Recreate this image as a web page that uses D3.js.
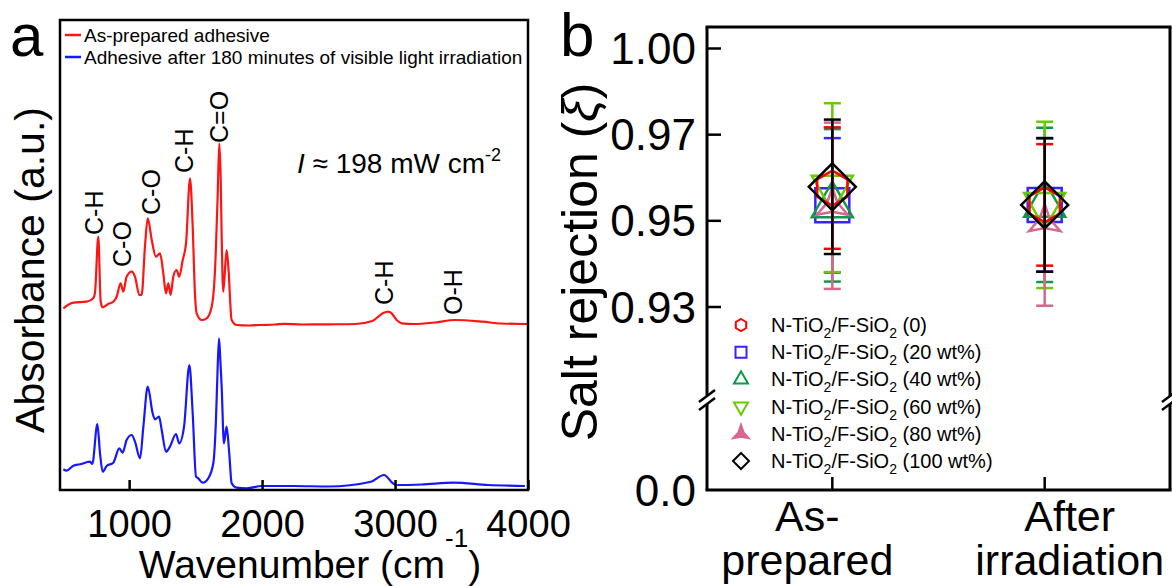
<!DOCTYPE html>
<html>
<head>
<meta charset="utf-8">
<script src="https://cdn.jsdelivr.net/npm/d3@7"></script>
<style>
  body { margin: 0; background: #fff; }
  svg { display: block; }
  text { font-family: "Liberation Sans", Arial, sans-serif; fill: #000; }
</style>
</head>
<body>
<svg id="chart" width="1172" height="586"></svg>
<script>
// ---------- Panel a: FTIR spectra ----------
const spectrumNames = ["As-prepared adhesive", "Adhesive after 180 minutes of visible light irradiation"];

const redWn = [505, 580, 681, 730, 743, 768, 786, 801, 843, 881, 906, 936, 956, 981, 1019, 1044, 1077, 1094,
  1119, 1140, 1170, 1202, 1232, 1257, 1277, 1295, 1312, 1332, 1357, 1377, 1403, 1428, 1458, 1478, 1495, 1508,
  1546, 1583, 1621, 1646, 1666, 1678, 1688, 1696, 1708, 1733, 1746, 1771, 1809, 1900, 1984, 2100, 2168, 2300,
  2500, 2700, 2829, 2908, 2946, 2972, 3012, 3050, 3141, 3300, 3451, 3660, 3800, 3997];
const redAbs = [1.817, 1.873, 1.883, 1.917, 1.970, 2.533, 1.883, 1.827, 1.860, 1.883, 1.933, 2.067, 1.983, 2.133,
  2.183, 2.133, 1.950, 1.950, 2.433, 2.717, 2.500, 2.333, 2.367, 2.167, 1.967, 2.067, 1.950, 2.133, 2.200, 2.133,
  2.300, 2.467, 3.117, 2.633, 1.967, 1.767, 1.700, 1.717, 1.833, 2.200, 2.950, 3.467, 3.150, 2.533, 1.983, 2.400,
  2.233, 1.700, 1.650, 1.645, 1.650, 1.655, 1.662, 1.655, 1.657, 1.660, 1.690, 1.767, 1.783, 1.770, 1.700, 1.667,
  1.660, 1.675, 1.700, 1.683, 1.665, 1.660];

const blueWn = [505, 530, 580, 630, 706, 723, 761, 781, 801, 831, 881, 926, 951, 981, 1019, 1044, 1082, 1107,
  1140, 1177, 1194, 1225, 1245, 1277, 1307, 1352, 1377, 1413, 1453, 1478, 1503, 1520, 1553, 1595, 1633, 1653,
  1664, 1676, 1686, 1696, 1713, 1733, 1753, 1771, 1809, 1884, 1997, 2235, 2500, 2819, 2917, 2984, 3010, 3200,
  3440, 3700, 3977];
const blueAbs = [0.207, 0.193, 0.243, 0.257, 0.283, 0.260, 0.660, 0.367, 0.183, 0.240, 0.273, 0.417, 0.373, 0.500,
  0.550, 0.483, 0.317, 0.633, 1.033, 0.767, 0.707, 0.733, 0.600, 0.383, 0.433, 0.560, 0.467, 0.633, 1.250, 0.767,
  0.133, 0.117, 0.073, 0.117, 0.267, 0.700, 1.150, 1.517, 1.300, 1.033, 0.467, 0.633, 0.367, 0.067, 0.023, 0.017,
  0.040, 0.040, 0.035, 0.083, 0.150, 0.067, 0.050, 0.055, 0.073, 0.050, 0.040];

const wnTicks = [1000, 2000, 3000, 4000];

// band assignments written above the red trace
const peakText = ["C-H", "C-O", "C-O", "C-H", "C=O", "C-H", "O-H"];
const peakWn = [736, 946, 1164, 1413, 1676, 2917, 3436];
const peakAbs = [2.55, 2.23, 2.75, 3.17, 3.47, 1.85, 1.75];

// ---------- Panel b: salt rejection ----------
const categories = ["As-prepared", "After irradiation"];
const categoryLines = [["As-", "prepared"], ["After", "irradiation"]];
const loadings = ["0", "20 wt%", "40 wt%", "60 wt%", "80 wt%", "100 wt%"];
const meanAsPrepared = [0.9576, 0.9536, 0.9536, 0.9577, 0.9535, 0.9579];
const errAsPrepared  = [0.0141, 0.0156, 0.0177, 0.0196, 0.0193, 0.0156];
const meanAfter      = [0.9537, 0.9537, 0.9537, 0.9537, 0.9497, 0.9537];
const errAfter       = [0.0141, 0.0155, 0.0179, 0.0193, 0.0194, 0.0155];
const yTickValues = [0.93, 0.95, 0.97, 0.99];
const yTickLabels = ["0.93", "0.95", "0.97", "1.00"];

const svg = d3.select("#chart");

// ====================== Panel a ======================
const A = { left: 60, right: 528, top: 20, bottom: 490 };
const xA = d3.scaleLinear().domain([480, 4000]).range([A.left, A.right]);
const yA = d3.scaleLinear().domain([0, 4.7]).range([A.bottom, A.top]);
const gA = svg.append("g");

const line = d3.line().x(d => xA(d[0])).y(d => yA(d[1])).curve(d3.curveMonotoneX);
const spectra = [
  { wn: redWn, abs: redAbs, color: "#ff1414" },
  { wn: blueWn, abs: blueAbs, color: "#1717ff" }
];
spectra.forEach(s => {
  gA.append("path")
    .datum(d3.zip(s.wn, s.abs))
    .attr("d", line)
    .attr("fill", "none")
    .attr("stroke", s.color)
    .attr("stroke-width", 2.2)
    .attr("stroke-linejoin", "round");
});

// frame
gA.append("rect").attr("x", A.left).attr("y", A.top)
  .attr("width", A.right - A.left).attr("height", A.bottom - A.top)
  .attr("fill", "none").attr("stroke", "#000").attr("stroke-width", 2.5);

// bottom axis ticks (inward) and labels
const axA = d3.axisBottom(xA).tickValues(wnTicks).tickSizeInner(-10).tickSizeOuter(0).tickPadding(20)
  .tickFormat(d3.format("d"));
const axAG = gA.append("g").attr("transform", `translate(0,${A.bottom})`).call(axA);
axAG.select(".domain").remove();
axAG.selectAll("line").attr("stroke", "#000").attr("stroke-width", 2.5);
axAG.selectAll("text").style("font-size", "38px").style("font-family", "'Liberation Sans', Arial, sans-serif").attr("fill", "#000");

// axis titles
const xt = gA.append("text").attr("x", 310).attr("y", 578).attr("text-anchor", "middle").style("font-size", "39px");
xt.append("tspan").text("Wavenumber (cm");
xt.append("tspan").attr("dy", -31).style("font-size", "26px").text("-1");
xt.append("tspan").attr("dy", 31).text(")");

gA.append("text").attr("transform", "translate(30,270) rotate(-90)")
  .attr("text-anchor", "middle").attr("dominant-baseline", "central")
  .style("font-size", "41px").text("Absorbance (a.u.)");

// legend
spectra.forEach((s, i) => {
  const y = 35 + i * 22;
  gA.append("line").attr("x1", 65).attr("x2", 81).attr("y1", y).attr("y2", y)
    .attr("stroke", s.color).attr("stroke-width", 2.5);
  gA.append("text").attr("x", 84).attr("y", y).attr("dominant-baseline", "central")
    .style("font-size", "19px").text(spectrumNames[i]);
});

// irradiance note
const note = gA.append("text").attr("x", 297).attr("y", 173).style("font-size", "28px");
note.append("tspan").style("font-style", "italic").text("I");
note.append("tspan").text(" \u2248 198 mW cm");
note.append("tspan").attr("dy", -12).style("font-size", "18px").text("-2");

// band labels
peakText.forEach((t, i) => {
  gA.append("text")
    .attr("transform", `translate(${xA(peakWn[i])},${yA(peakAbs[i])}) rotate(-90)`)
    .attr("dominant-baseline", "central")
    .style("font-size", "25px").text(t);
});

// panel letter
svg.append("text").attr("x", 10).attr("y", 56).style("font-size", "60px").text("a");

// ====================== Panel b ======================
const B = { left: 707, right: 1170, top: 27, bottom: 490, breakY: 400 };
const xB = d3.scalePoint().domain(categories).range([B.left, B.right]).padding(0.59);
const yB = d3.scaleLinear().domain([0.93, 0.99]).range([307, 48.5]);
const yZero = B.bottom;
const gB = svg.append("g");

const colors = ["#ff0000", "#3a22ff", "#0b9a48", "#66cc00", "#d9668f", "#000000"];

// marker path builders (centered on 0,0)
function polygon(pts) { return "M" + pts.map(p => p.join(",")).join("L") + "Z"; }
function hexagon(r) {
  return polygon(d3.range(6).map(k => {
    const a = -Math.PI / 2 + k * Math.PI / 3;
    return [r * Math.cos(a), r * Math.sin(a)];
  }));
}
function square(s) { const h = s / 2; return polygon([[-h, -h], [h, -h], [h, h], [-h, h]]); }
function triUp(side) {
  const h = side * Math.sqrt(3) / 2;
  return polygon([[0, -2 * h / 3], [side / 2, h / 3], [-side / 2, h / 3]]);
}
function triDown(side) {
  const h = side * Math.sqrt(3) / 2;
  return polygon([[0, 2 * h / 3], [side / 2, -h / 3], [-side / 2, -h / 3]]);
}
function triStar(R, r) {
  const pts = [];
  for (let k = 0; k < 6; k++) {
    const a = -Math.PI / 2 + k * Math.PI / 3;
    const rr = k % 2 === 0 ? R : r;
    pts.push([rr * Math.cos(a), rr * Math.sin(a)]);
  }
  return polygon(pts);
}
function diamond(h) { return polygon([[0, -h], [h, 0], [0, h], [-h, 0]]); }

const markerBig = [hexagon(17.5), square(34), triUp(41), triDown(41), triStar(18, 6), diamond(23.5)];
const markerSmall = [hexagon(6), square(11), triUp(14), triDown(14), triStar(9, 3), diamond(8)];

const pointData = loadings.map((l, i) => ({
  i,
  pts: [
    { cat: categories[0], mean: meanAsPrepared[i], err: errAsPrepared[i] },
    { cat: categories[1], mean: meanAfter[i], err: errAfter[i] }
  ]
}));

const drawOrder = [1, 2, 3, 4, 0, 5];
drawOrder.forEach(i => {
  const s = pointData[i];
  const g = gB.append("g");
  s.pts.forEach(p => {
    const cx = xB(p.cat);
    const y1 = yB(p.mean + p.err), y2 = yB(p.mean - p.err);
    g.append("line").attr("x1", cx).attr("x2", cx).attr("y1", y1).attr("y2", y2)
      .attr("stroke", colors[i]).attr("stroke-width", 2.5);
    [y1, y2].forEach(yy => g.append("line").attr("x1", cx - 8.5).attr("x2", cx + 8.5)
      .attr("y1", yy).attr("y2", yy).attr("stroke", colors[i]).attr("stroke-width", 2.5));
    g.append("path").attr("d", markerBig[i])
      .attr("transform", `translate(${cx},${yB(p.mean)})`)
      .attr("fill", "none").attr("stroke", colors[i]).attr("stroke-width", 2.5)
      .attr("stroke-linejoin", "miter");
  });
});

// frame with axis breaks
const fr = gB.append("g").attr("stroke", "#000").attr("stroke-width", 3).attr("fill", "none");
fr.append("line").attr("x1", B.left - 1.5).attr("x2", B.right + 1.5).attr("y1", B.top).attr("y2", B.top);
fr.append("line").attr("x1", B.left - 1.5).attr("x2", B.right + 1.5).attr("y1", B.bottom).attr("y2", B.bottom);
[B.left, B.right].forEach(x => {
  fr.append("line").attr("x1", x).attr("x2", x).attr("y1", B.top).attr("y2", B.breakY - 4);
  fr.append("line").attr("x1", x).attr("x2", x).attr("y1", B.breakY + 4).attr("y2", B.bottom);
  [-4, 4].forEach(o => fr.append("line")
    .attr("x1", x - 8).attr("y1", B.breakY + o + 6)
    .attr("x2", x + 8).attr("y2", B.breakY + o - 6)
    .attr("stroke-width", 2.5));
});

// y ticks and labels
const yTickAll = yTickValues.map((v, k) => ({ y: yB(v), label: yTickLabels[k] }))
  .concat([{ y: yZero, label: "0.0" }]);
yTickAll.forEach(t => {
  if (t.y < B.bottom - 1) {
    gB.append("line").attr("x1", B.left).attr("x2", B.left + 14).attr("y1", t.y).attr("y2", t.y)
      .attr("stroke", "#000").attr("stroke-width", 2.5);
  }
  gB.append("text").attr("x", 696).attr("y", t.y).attr("text-anchor", "end")
    .attr("dominant-baseline", "central").style("font-size", "44px").text(t.label);
});

// x ticks and labels
const labelShift = [-25, 25];
categories.forEach((c, k) => {
  const cx = xB(c);
  gB.append("line").attr("x1", cx).attr("x2", cx).attr("y1", B.bottom).attr("y2", B.bottom - 13)
    .attr("stroke", "#000").attr("stroke-width", 2.5);
  categoryLines[k].forEach((w, j) => {
    gB.append("text").attr("x", cx + labelShift[k]).attr("y", 531 + j * 44)
      .attr("text-anchor", "middle").style("font-size", "43px").text(w);
  });
});

// y title
const yt = gB.append("text").attr("transform", "translate(580,262) rotate(-90)")
  .attr("text-anchor", "middle").attr("dominant-baseline", "central").style("font-size", "50px");
yt.append("tspan").text("Salt rejection (");
yt.append("tspan").style("font-style", "italic").text("\u03be");
yt.append("tspan").text(")");

// legend
loadings.forEach((l, i) => {
  const y = 325 + i * 27.2;
  gB.append("path").attr("d", markerSmall[i]).attr("transform", `translate(741,${y})`)
    .attr("fill", i === 4 ? colors[i] : "none").attr("stroke", colors[i]).attr("stroke-width", 2);
  const t = gB.append("text").attr("x", 771).attr("y", y + 7).style("font-size", "20px");
  t.append("tspan").text("N-TiO");
  t.append("tspan").attr("dy", 6).style("font-size", "14px").text("2");
  t.append("tspan").attr("dy", -6).text("/F-SiO");
  t.append("tspan").attr("dy", 6).style("font-size", "14px").text("2");
  t.append("tspan").attr("dy", -6).text(" (" + l + ")");
});

// panel letter
svg.append("text").attr("x", 560).attr("y", 56).style("font-size", "62px").text("b");
</script>
</body>
</html>
